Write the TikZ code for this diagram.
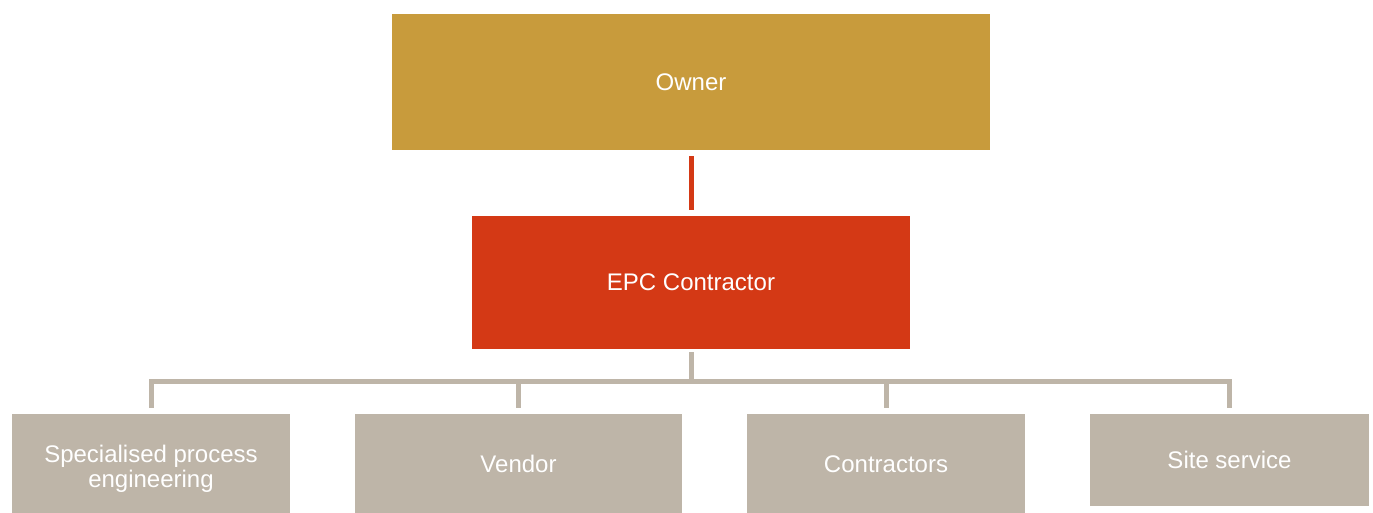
\documentclass[tikz,border=0pt]{standalone}
\usepackage{fontspec}
\setmainfont{Liberation Sans}
\definecolor{ownerc}{HTML}{C89B3C}
\definecolor{epcc}{HTML}{D43915}
\definecolor{grayc}{HTML}{BEB5A8}
\begin{document}
\begin{tikzpicture}[x=1pt,y=-1pt,
  box/.style={rectangle,inner sep=0pt,text=white,align=center,
    font=\fontsize{24pt}{25pt}\selectfont},
  link/.style={line width=5pt,line join=miter}]
\useasboundingbox[fill=white] (0,0) rectangle (1373,513);
\node[box,fill=ownerc,minimum width=598pt,minimum height=136pt] (owner) at (691,82) {Owner};
\node[box,fill=epcc,minimum width=438pt,minimum height=133pt] (epc) at (691,282.5) {EPC Contractor};
\node[box,fill=grayc,minimum width=278pt,minimum height=110pt] (b1) at (151,469) {Specialised process\\engineering};
\node[box,fill=grayc,minimum width=327pt,minimum height=100pt] (b2) at (518.5,464) {Vendor};
\node[box,fill=grayc,minimum width=278pt,minimum height=100pt] (b3) at (886,464) {Contractors};
\node[box,fill=grayc,minimum width=279pt,minimum height=92pt] (b4) at (1229.5,460) {Site service};
\coordinate (bus) at (691,381);
\draw[link,draw=epcc,shorten <=6pt,shorten >=6pt] (owner.south) -- (epc.north);
\draw[link,draw=grayc,shorten <=3pt] (epc.south) -- (bus);
\draw[link,draw=grayc,shorten >=6pt] ([yshift=2pt]b1.north |- bus) -- (b1.north |- bus) -- (b4.north |- bus) -- (b4.north);
\draw[link,draw=grayc,shorten >=6pt] (b2.north |- bus) -- (b2.north);
\draw[link,draw=grayc,shorten >=6pt] (b3.north |- bus) -- (b3.north);
\draw[link,draw=grayc,shorten >=6pt] (b1.north |- bus) -- (b1.north);
\end{tikzpicture}
\end{document}
